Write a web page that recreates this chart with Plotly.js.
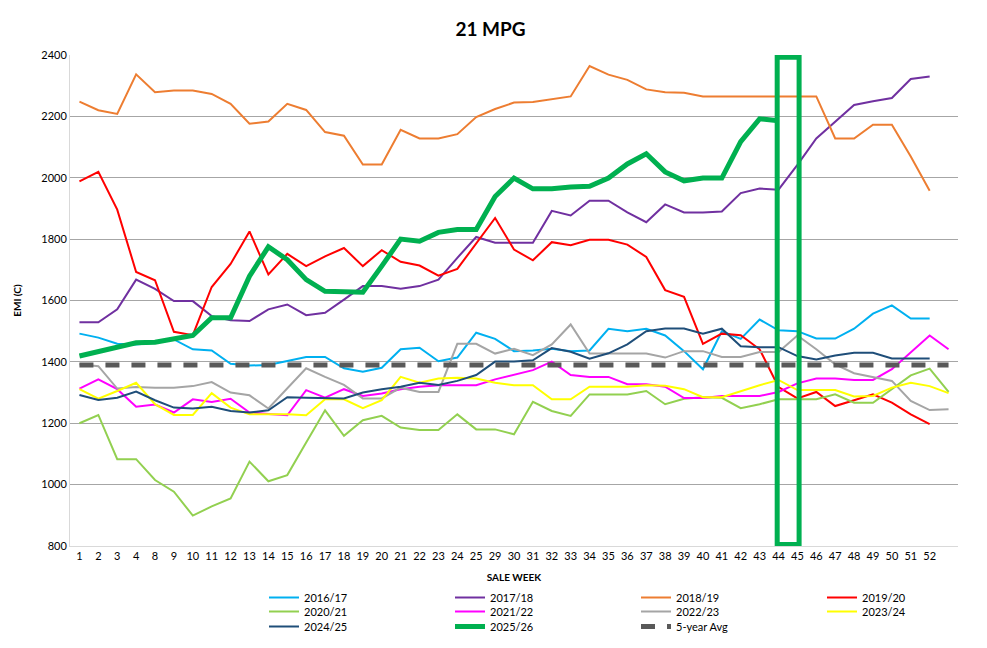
<!DOCTYPE html>
<html>
<head>
<meta charset="utf-8">
<script src="https://cdn.plot.ly/plotly-3.0.1.min.js"></script>
<style>html,body{margin:0;padding:0;background:#fff;}#chart{width:987px;height:648px;}</style>
</head>
<body>
<div id="chart"></div>
<script>
// Sale week categories (last category has no label)
const weeks = ['1','2','3','4','8','9','10','11','12','13','14','15','16','17','18','19','20','21','22','23','24','25','29','30','31','32','33','34','35','36','37','38','39','40','41','42','43','44','45','46','47','48','49','50','51','52',''];

const s2016_17 = [1492,1479,1459,1457,1462,1473,1441,1437,1394,1388,1390,1402,1416,1416,1379,1368,1381,1441,1446,1402,1414,1495,1475,1435,1437,1443,1435,1437,1508,1500,1508,1486,1435,1376,1500,1475,1538,1503,1500,1476,1476,1508,1557,1584,1541,1541];
const s2017_18 = [1529,1529,1571,1668,1638,1598,1598,1549,1536,1533,1571,1587,1552,1560,1603,1647,1647,1638,1647,1668,1739,1807,1788,1788,1788,1892,1877,1925,1925,1887,1855,1913,1887,1887,1890,1950,1965,1961,2042,2128,2183,2237,2249,2260,2322,2330];
const s2018_19 = [2248,2220,2208,2337,2279,2284,2284,2273,2241,2176,2183,2241,2221,2149,2137,2043,2043,2156,2128,2128,2142,2198,2224,2245,2247,2257,2265,2364,2336,2319,2288,2279,2277,2265,2265,2265,2265,2265,2265,2265,2128,2128,2173,2173,2069,1958];
const s2019_20 = [1988,2019,1896,1693,1666,1498,1487,1644,1719,1825,1685,1752,1712,1744,1771,1712,1764,1726,1714,1681,1703,1788,1869,1766,1731,1790,1780,1798,1798,1782,1742,1634,1612,1459,1492,1487,1441,1318,1281,1302,1256,1275,1294,1267,1229,1197];
const s2020_21 = [1200,1227,1083,1083,1015,977,899,929,955,1075,1011,1031,1137,1242,1159,1210,1224,1186,1178,1178,1229,1180,1180,1164,1270,1240,1224,1294,1294,1294,1305,1262,1280,1285,1283,1249,1262,1278,1278,1278,1294,1267,1267,1311,1356,1378,1302];
const s2021_22 = [1313,1343,1311,1254,1261,1235,1278,1269,1280,1235,1230,1226,1308,1283,1311,1289,1297,1311,1319,1324,1324,1324,1343,1359,1373,1401,1357,1351,1351,1327,1327,1319,1282,1282,1289,1289,1289,1302,1330,1346,1346,1341,1341,1376,1430,1486,1441];
const s2022_23 = [1392,1386,1313,1318,1316,1316,1321,1334,1300,1291,1248,1313,1379,1351,1325,1281,1281,1316,1302,1302,1459,1459,1427,1443,1422,1457,1522,1427,1427,1427,1427,1414,1435,1435,1416,1416,1432,1432,1486,1441,1392,1363,1351,1338,1273,1243,1246];
const s2023_24 = [1311,1280,1305,1332,1262,1227,1227,1298,1251,1229,1229,1229,1226,1278,1278,1249,1275,1351,1332,1346,1348,1346,1332,1324,1324,1278,1278,1319,1319,1319,1324,1322,1311,1285,1285,1305,1324,1341,1308,1308,1308,1287,1289,1316,1332,1321,1298];
const s2024_25 = [1292,1276,1283,1303,1275,1251,1248,1254,1240,1235,1242,1285,1283,1281,1281,1300,1311,1319,1332,1325,1338,1357,1401,1401,1405,1445,1433,1410,1428,1457,1500,1509,1509,1492,1508,1451,1448,1448,1419,1408,1421,1430,1430,1411,1411,1411];
const s2025_26 = [1419,1432,1446,1462,1464,1475,1486,1544,1544,1679,1775,1733,1668,1630,1627,1627,1712,1800,1793,1822,1831,1831,1939,1999,1964,1964,1970,1972,1999,2045,2078,2019,1990,1999,1999,2118,2192,2186];
const avg5 = [1390,1390,1390,1390,1390,1390,1390,1390,1390,1390,1390,1390,1390,1390,1390,1390,1390,1390,1390,1390,1390,1390,1390,1390,1390,1390,1390,1390,1390,1390,1390,1390,1390,1390,1390,1390,1390,1390,1390,1390,1390,1390,1390,1390,1390,1390,1390];

const seriesNames = ['2016/17','2017/18','2018/19','2019/20','2020/21','2021/22','2022/23','2023/24','2024/25','2025/26','5-year Avg'];
const highlightWeeks = ['44','45'];

const xIdx = weeks.map((w, i) => i);
const FONT = 'Lato, "Open Sans", "Liberation Sans", sans-serif';

function line(name, vals, color, width, legend, dash) {
  return {
    type: 'scatter', mode: 'lines', name: name,
    x: xIdx.slice(0, vals.length), y: vals,
    line: {color: color, width: width, dash: dash || 'solid'},
    legend: legend, hoverinfo: 'x+y+name'
  };
}

const traces = [
  line(seriesNames[0], s2016_17, '#00B0F0', 2, 'legend'),
  line(seriesNames[1], s2017_18, '#7030A0', 2, 'legend'),
  line(seriesNames[2], s2018_19, '#ED7D31', 2, 'legend'),
  line(seriesNames[3], s2019_20, '#FF0000', 2, 'legend'),
  line(seriesNames[4], s2020_21, '#92D050', 2, 'legend2'),
  line(seriesNames[5], s2021_22, '#FF00FF', 2, 'legend2'),
  line(seriesNames[6], s2022_23, '#A5A5A5', 2, 'legend2'),
  line(seriesNames[7], s2023_24, '#FFFF00', 2, 'legend2'),
  line(seriesNames[8], s2024_25, '#1F4E79', 2, 'legend3'),
  line(seriesNames[9], s2025_26, '#00B050', 5, 'legend3'),
  line(seriesNames[10], avg5, '#595959', 5, 'legend3', '14px,12px')
];

const hi0 = weeks.indexOf(highlightWeeks[0]);
const hi1 = weeks.indexOf(highlightWeeks[1]);

function legendAt(px, py) {
  return {
    orientation: 'h', xref: 'container', yref: 'container',
    x: px / 987, y: 1 - py / 648, xanchor: 'left', yanchor: 'top',
    entrywidth: 141, entrywidthmode: 'pixels',
    font: {family: FONT, size: 11, color: '#000'},
    bgcolor: 'rgba(0,0,0,0)', borderwidth: 0, itemclick: false
  };
}

const layout = {
  width: 987, height: 648,
  paper_bgcolor: '#fff', plot_bgcolor: '#fff',
  margin: {l: 70, r: 29, t: 55, b: 102, autoexpand: false},
  font: {family: FONT, size: 11, color: '#000'},
  title: {
    text: '<b>21 MPG</b>', xref: 'container', x: 0.497, xanchor: 'center',
    yref: 'container', y: 1 - 29 / 648, yanchor: 'middle',
    font: {family: FONT, size: 19, color: '#000'}
  },
  showlegend: true,
  legend: legendAt(264, 583),
  legend2: legendAt(264, 597),
  legend3: legendAt(264, 612),
  xaxis: {
    range: [-0.5, weeks.length - 0.5],
    tickmode: 'array', tickvals: xIdx, ticktext: weeks,
    showgrid: false, zeroline: false,
    showline: true, linecolor: '#D9D9D9', linewidth: 1,
    ticks: '', tickfont: {family: FONT, size: 11, color: '#000'},
    title: {text: '<b>SALE WEEK</b>', font: {family: FONT, size: 10, color: '#000'}, standoff: 13}
  },
  yaxis: {
    range: [800, 2400], dtick: 200, tick0: 800,
    showgrid: true, gridcolor: '#A6A6A6', gridwidth: 1,
    zeroline: false, showline: true, linecolor: '#D9D9D9', linewidth: 1,
    ticks: '', tickfont: {family: FONT, size: 11, color: '#000'},
    title: {text: '<b>EMI (C)</b>', font: {family: FONT, size: 10, color: '#000'}, standoff: 17}
  },
  shapes: [{
    type: 'rect', xref: 'x', yref: 'y', layer: 'above',
    x0: hi0 - 0.07, x1: hi1 + 0.09, y0: 805, y1: 2393,
    line: {color: '#00B050', width: 5}, fillcolor: 'rgba(0,0,0,0)'
  }]
};

Plotly.newPlot('chart', traces, layout, {staticPlot: true, displayModeBar: false});
</script>
</body>
</html>
